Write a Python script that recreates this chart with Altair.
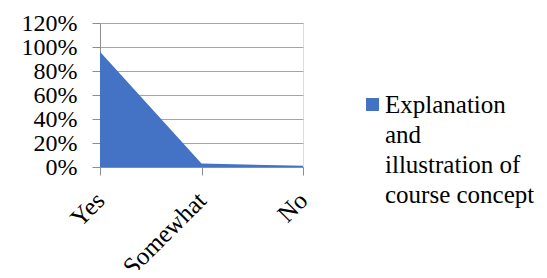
import altair as alt
import pandas as pd

categories = ["Yes", "Somewhat", "No"]
values = [0.96, 0.03, 0.01]
series_name = "Explanation and illustration of course concept"
legend_lines = ["Explanation", "and", "illustration of", "course concept"]
y_ticks = [0, 0.2, 0.4, 0.6, 0.8, 1.0, 1.2]

df = pd.DataFrame({"cat": categories, "val": values, "series": series_name})

FONT = "Liberation Serif"
GRID = "#a6a6a6"
AXIS = "#8c8c8c"
label_expr = "[" + ",".join("'" + s + "'" for s in legend_lines) + "]"

chart = alt.Chart(df).mark_area(color="#4472C4", interpolate="linear").encode(
    x=alt.X("cat:N", sort=categories, title=None,
            scale=alt.Scale(type="point", padding=0),
            axis=alt.Axis(labelAngle=-45, labelFont=FONT, labelFontSize=25,
                          labelColor="black", domainColor=AXIS, tickColor=AXIS,
                          tickSize=8, labelPadding=21, grid=False,
                          labelOverlap=False,
                          labelAlign="right", labelBaseline="middle")),
    y=alt.Y("val:Q", title=None,
            scale=alt.Scale(domain=[0, 1.2], nice=False),
            axis=alt.Axis(values=y_ticks, format=".0%", labelFont=FONT,
                          labelFontSize=24, labelColor="black", gridColor=GRID,
                          domainColor=AXIS, tickColor=AXIS, tickSize=8,
                          labelOverlap=False, labelPadding=15)),
    color=alt.Color("series:N", scale=alt.Scale(range=["#4472C4"]),
                    legend=alt.Legend(title=None, orient="none", legendX=260,
                                      legendY=69, labelFont=FONT,
                                      labelFontSize=25, labelColor="black",
                                      symbolType="square", symbolSize=170,
                                      symbolStrokeWidth=0, labelExpr=label_expr,
                                      labelLimit=300, symbolOffset=0,
                                      labelOffset=0)),
).properties(
    width=203, height=144,
    autosize=alt.AutoSizeParams(type="none"),
    padding={"left": 92, "top": 15, "right": 236, "bottom": 103},
).configure_view(stroke=None).configure(
    background="white",
    style={"guide-label": {"lineHeight": 30}},
)

chart.save("out.html", embed_options={"renderer": "svg", "actions": False})
